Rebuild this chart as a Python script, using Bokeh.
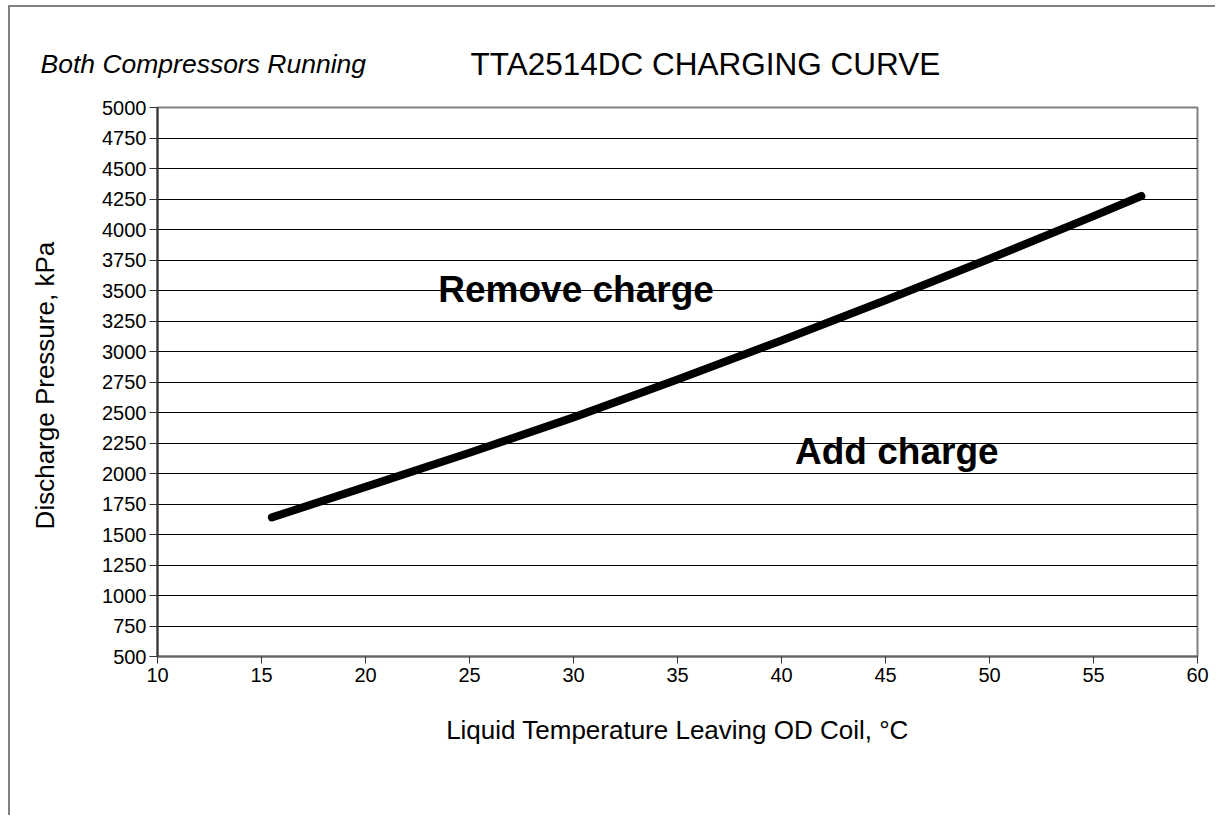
from bokeh.plotting import figure
from bokeh.models import Range1d, SingleIntervalTicker, Label, ColumnDataSource
from bokeh.layouts import column
from bokeh.embed import file_html
from bokeh.resources import INLINE

# data
temp_c = [15.5, 20, 25, 30, 35, 40, 45, 50, 55, 57.3]
pressure_kpa = [1640, 1890, 2170, 2460, 2770, 3090, 3420, 3760, 4110, 4275]

title_text = "TTA2514DC CHARGING CURVE"
subtitle_text = "Both Compressors Running"
x_label = "Liquid Temperature Leaving OD Coil, °C"
y_label = "Discharge Pressure,  kPa"
remove_text = "Remove charge"
add_text = "Add charge"

FONT = "Liberation Sans"
W = 1205

# header strip holding the two titles (pixel-based ranges)
head = figure(width=W, height=90, output_backend="svg", toolbar_location=None,
              x_range=Range1d(0, W), y_range=Range1d(0, 90),
              x_axis_location=None, y_axis_location=None,
              min_border=0)
head.frame_align = False
head.outline_line_color = None
head.xgrid.visible = False
head.ygrid.visible = False
head.add_layout(Label(x=30, y=34, text=subtitle_text, text_font=FONT,
                      text_font_size="26.5px", text_font_style="italic",
                      text_color="black", text_baseline="alphabetic"))
head.add_layout(Label(x=460, y=34, text=title_text, text_font=FONT,
                      text_font_size="31.5px", text_color="black",
                      text_baseline="alphabetic"))

p = figure(width=W, height=718, output_backend="svg", toolbar_location=None,
           x_range=Range1d(10, 60), y_range=Range1d(500, 5000),
           min_border_left=147, min_border_right=18, min_border_top=10,
           min_border_bottom=159)
p.frame_align = False
p.background_fill_color = "white"
p.border_fill_color = "white"
p.outline_line_color = "#808080"
p.outline_line_width = 2

src = ColumnDataSource(dict(t=temp_c, p=pressure_kpa))
p.line("t", "p", source=src, line_color="black", line_width=8, line_cap="round",
       line_join="round")

p.xaxis.ticker = SingleIntervalTicker(interval=5)
p.yaxis.ticker = SingleIntervalTicker(interval=250)
p.xgrid.grid_line_color = None
p.ygrid.grid_line_color = "black"
p.ygrid.grid_line_width = 1
p.ygrid.ticker = SingleIntervalTicker(interval=250)

for ax in (p.xaxis[0], p.yaxis[0]):
    ax.major_label_text_font = FONT
    ax.major_label_text_font_size = "20px"
    ax.major_label_text_color = "black"
    ax.axis_label_text_font = FONT
    ax.axis_label_text_font_size = "26px"
    ax.axis_label_text_font_style = "normal"
    ax.axis_label_text_color = "black"
    ax.minor_tick_line_color = None
    ax.major_tick_in = 0
    ax.major_tick_line_color = "#333333"
    ax.major_tick_line_width = 1

p.xaxis.axis_label = x_label
p.yaxis.axis_label = y_label
p.xaxis.axis_line_color = "#666666"
p.xaxis.axis_line_width = 2
p.yaxis.axis_line_color = "#333333"
p.yaxis.axis_line_width = 2
p.xaxis.major_tick_out = 7
p.yaxis.major_tick_out = 8
p.xaxis.major_label_standoff = 4
p.yaxis.major_label_standoff = 3
p.xaxis.axis_label_standoff = 30
p.yaxis.axis_label_standoff = 39

p.add_layout(Label(x=23.5, y=3509, text=remove_text, text_font=FONT,
                   text_font_size="37px", text_font_style="bold", text_color="black",
                   text_baseline="alphabetic"))
p.add_layout(Label(x=40.65, y=2181, text=add_text, text_font=FONT,
                   text_font_size="37px", text_font_style="bold", text_color="black",
                   text_baseline="alphabetic"))

layout = column(head, p, margin=(5, 0, 0, 8), spacing=0,
                styles={"border-left": "2px solid #808080",
                        "border-top": "2px solid #808080"})

open("out.html", "w").write(file_html(layout, INLINE))
